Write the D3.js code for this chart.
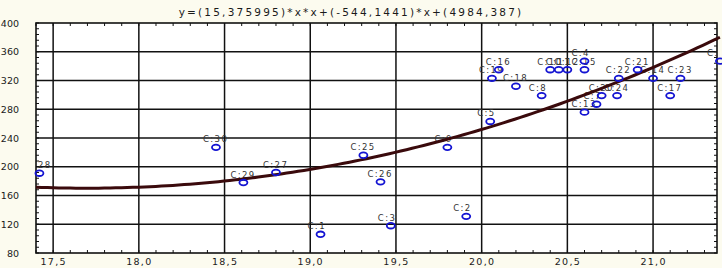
<!DOCTYPE html>
<html>
<head>
<meta charset="utf-8">
<script src="https://cdn.jsdelivr.net/npm/d3@7"></script>
<style>
  body { margin: 0; background: #fcfbef; }
  svg { display: block; font-family: "DejaVu Sans", sans-serif; }
  .tick-label { font-size: 9.5px; fill: #1a1a1a; }
  .pt-label { font-size: 8.5px; fill: #333; letter-spacing: 1.4px; }
</style>
</head>
<body>
<div id="chart"></div>
<script>
// Fit coefficients from the title: a*x*x + b*x + c
const coeffs = [15.375995, -544.1441, 4984.387];
const titleText = "y=(15,375995)*x*x+(-544,1441)*x+(4984,387)";

// Points
const pointNames = ["C:28","C:30","C:29","C:27","C:1","C:25","C:26","C:3","C:9","C:2",
  "C:5","C:19","C:16","C:18","C:8","C:10","C:11","C:12","C:4","C:15",
  "C:13","C:7","C:20","C:24","C:22","C:21","C:14","C:23","C:17","C:6"];
const xValues = [17.42, 18.45, 18.61, 18.80, 19.06, 19.31, 19.41, 19.47, 19.80, 19.91,
  20.05, 20.06, 20.10, 20.20, 20.35, 20.40, 20.45, 20.50, 20.60, 20.60,
  20.60, 20.67, 20.70, 20.79, 20.80, 20.91, 21.00, 21.16, 21.10, 21.39];
const yValues = [191, 227, 178, 192, 106, 216, 179, 118, 227, 131,
  263, 323, 335, 312, 299, 335, 335, 335, 347, 335,
  276, 287, 299, 299, 323, 335, 323, 323, 299, 347];

const xTicks = [17.5, 18.0, 18.5, 19.0, 19.5, 20.0, 20.5, 21.0];
const yTicks = [80, 120, 160, 200, 240, 280, 320, 360, 400];

const width = 722, height = 268;
const marginLeft = 36, marginRight = 5, marginTop = 23, marginBottom = 15;
const plotW = width - marginLeft - marginRight;
const plotH = height - marginTop - marginBottom;

const svg = d3.select("#chart").append("svg")
  .attr("width", width).attr("height", height);

const xScale = d3.scaleLinear().domain([17.40, 21.373]).range([marginLeft, width - marginRight]);
const yScale = d3.scaleLinear().domain([80, 400]).range([height - marginBottom, marginTop]);

const commaFmt = d3.formatLocale({decimal: ",", thousands: ".", grouping: [3], currency: ["", ""]}).format(".1f");

// Plot background
svg.append("rect")
  .attr("x", marginLeft).attr("y", marginTop)
  .attr("width", plotW).attr("height", plotH)
  .attr("fill", "#fff");

// Title
svg.append("text")
  .attr("x", 351).attr("y", 16)
  .attr("text-anchor", "middle")
  .style("font-size", "10.5px").style("letter-spacing", "2.2px").style("fill", "#1a1a1a")
  .text(titleText);

// Grid lines
const grid = svg.append("g").attr("stroke", "#111").attr("stroke-width", 1.5);
grid.selectAll(".vx").data(xTicks).enter().append("line")
  .attr("x1", d => xScale(d)).attr("x2", d => xScale(d))
  .attr("y1", marginTop).attr("y2", height - marginBottom);
grid.selectAll(".hy").data(yTicks.slice(1, -1)).enter().append("line")
  .attr("x1", marginLeft).attr("x2", width - marginRight)
  .attr("y1", d => yScale(d)).attr("y2", d => yScale(d));

// Minor ticks (inward, all sides)
const xMinor = d3.range(17.4, 21.38, 0.1);
const yMinor = d3.range(80, 401, 8);
const minor = svg.append("g").attr("stroke", "#111").attr("stroke-width", 1);
xMinor.forEach(v => {
  const x = xScale(v);
  minor.append("line").attr("x1", x).attr("x2", x).attr("y1", height - marginBottom).attr("y2", height - marginBottom - 3);
  minor.append("line").attr("x1", x).attr("x2", x).attr("y1", marginTop).attr("y2", marginTop + 3);
});
yMinor.forEach(v => {
  const y = yScale(v);
  minor.append("line").attr("x1", marginLeft).attr("x2", marginLeft + 3).attr("y1", y).attr("y2", y);
  minor.append("line").attr("x1", width - marginRight).attr("x2", width - marginRight - 3).attr("y1", y).attr("y2", y);
});

// Frame
svg.append("rect")
  .attr("x", marginLeft).attr("y", marginTop)
  .attr("width", plotW).attr("height", plotH)
  .attr("fill", "none").attr("stroke", "#111").attr("stroke-width", 1.6);

// Axes labels
const xAxis = d3.axisBottom(xScale).tickValues(xTicks).tickFormat(commaFmt).tickSize(0).tickPadding(5);
svg.append("g")
  .attr("transform", `translate(0,${height - marginBottom})`)
  .call(xAxis)
  .call(g => g.select(".domain").remove())
  .call(g => g.selectAll("text").attr("class", "tick-label").attr("fill", null).style("letter-spacing", "1.3px"))
  .attr("font-family", null).attr("font-size", null);

const yAxis = d3.axisLeft(yScale).tickValues(yTicks).tickFormat(d3.format("d")).tickSize(0).tickPadding(17);
svg.append("g")
  .attr("transform", `translate(${marginLeft},0)`)
  .call(yAxis)
  .call(g => g.select(".domain").remove())
  .call(g => g.selectAll("text").attr("class", "tick-label").attr("fill", null))
  .attr("font-family", null).attr("font-size", null);

// Clip for labels
svg.append("clipPath").attr("id", "plot-clip")
  .append("rect")
  .attr("x", marginLeft).attr("y", marginTop)
  .attr("width", plotW).attr("height", plotH);

// Labels
svg.append("g").attr("clip-path", "url(#plot-clip)")
  .selectAll("text").data(pointNames).enter().append("text")
  .attr("class", "pt-label")
  .attr("x", (d, i) => xScale(xValues[i]) - 13)
  .attr("y", (d, i) => yScale(yValues[i]) - 5)
  .text(d => d);

// Fit curve
const curveX = d3.range(0, 121).map(i => 17.40 + i * (21.39 - 17.40) / 120);
const line = d3.line()
  .x(d => xScale(d))
  .y(d => yScale(coeffs[0] * d * d + coeffs[1] * d + coeffs[2]));
svg.append("path")
  .datum(curveX)
  .attr("d", line)
  .attr("fill", "none")
  .attr("stroke", "#3a0a0c")
  .attr("stroke-width", 3);

// Points
svg.append("g").selectAll("ellipse").data(pointNames).enter().append("ellipse")
  .attr("cx", (d, i) => xScale(xValues[i]))
  .attr("cy", (d, i) => yScale(yValues[i]))
  .attr("rx", 4).attr("ry", 2.8)
  .attr("fill", "none")
  .attr("stroke", "#1414d2")
  .attr("stroke-width", 1.8);
</script>
</body>
</html>
